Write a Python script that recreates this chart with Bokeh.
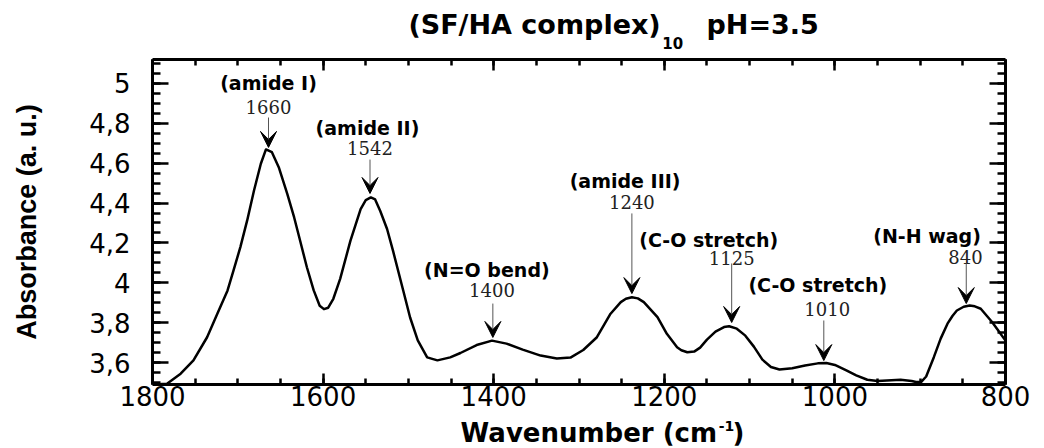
from bokeh.plotting import figure
from bokeh.layouts import column
from bokeh.models import (Range1d, FixedTicker, LinearAxis, CustomJSTickFormatter,
                          Arrow, VeeHead, ColumnDataSource)
from bokeh.core.properties import value
from bokeh.embed import file_html
from bokeh.resources import INLINE

# ---------------- data ----------------
wavenumber = [1800, 1783, 1767, 1752, 1736, 1724, 1712, 1705, 1697, 1689, 1681, 1673,
              1667, 1660, 1652, 1642, 1634, 1627, 1619, 1611, 1604, 1599, 1594, 1588, 1580,
              1568, 1556, 1550, 1544, 1539, 1533, 1525, 1518, 1506, 1498, 1489, 1478,
              1466, 1451, 1439, 1420, 1402, 1385, 1366, 1345, 1326, 1310, 1295, 1279,
              1263, 1251, 1245, 1238, 1231, 1224, 1208, 1197, 1185, 1180, 1173, 1165,
              1158, 1150, 1140, 1130, 1124, 1115, 1105, 1095, 1085, 1075, 1065, 1050,
              1035, 1020, 1010, 1000, 986, 975, 962, 950, 939, 923, 910, 905, 899, 893,
              884, 876, 868, 862, 857, 849, 842, 836, 829, 822, 816, 810, 800]
absorbance = [3.49, 3.494, 3.544, 3.611, 3.727, 3.845, 3.962, 4.062, 4.179, 4.313, 4.463, 4.597,
              4.669, 4.655, 4.58, 4.446, 4.329, 4.212, 4.078, 3.962, 3.885, 3.868, 3.875, 3.92, 4.02,
              4.21, 4.37, 4.415, 4.428, 4.418, 4.36, 4.27, 4.16, 3.96, 3.826, 3.711, 3.626,
              3.611, 3.626, 3.648, 3.688, 3.71, 3.695, 3.665, 3.635, 3.62, 3.625, 3.663, 3.727,
              3.845, 3.903, 3.92, 3.928, 3.922, 3.903, 3.828, 3.744, 3.677, 3.662, 3.652, 3.655,
              3.675, 3.715, 3.755, 3.778, 3.782, 3.77, 3.735, 3.68, 3.615, 3.578, 3.565, 3.572,
              3.585, 3.596, 3.598, 3.588, 3.56, 3.536, 3.514, 3.508, 3.51, 3.514, 3.508, 3.503, 3.502, 3.53,
              3.627, 3.72, 3.795, 3.835, 3.861, 3.88, 3.886, 3.882, 3.87, 3.835, 3.805, 3.77, 3.71]

ann_labels = ["(amide I)", "(amide II)", "(N=O bend)", "(amide III)",
              "(C-O stretch)", "(C-O stretch)", "(N-H wag)"]
ann_numbers = ["1660", "1542", "1400", "1240", "1125", "1010", "840"]
arrow_x = [1664, 1545, 1401, 1238, 1121, 1013, 846]
arrow_tip = [4.679, 4.448, 3.726, 3.946, 3.801, 3.61, 3.896]
arrow_tail = [4.829, 4.618, 3.896, 4.348, 4.097, 3.811, 4.097]
label_x = [1664, 1548, 1408, 1246, 1148, 1020, 892]
label_y = [5.0, 4.774, 4.062, 4.513, 4.217, 3.987, 4.237]
number_x = [1664, 1545, 1402, 1238, 1121, 1009, 847]
number_y = [4.884, 4.674, 3.962, 4.403, 4.122, 3.871, 4.127]

x_major = [1800, 1600, 1400, 1200, 1000, 800]
x_minor = list(range(800, 1801, 50))
y_major = [3.6, 3.8, 4.0, 4.2, 4.4, 4.6, 4.8, 5.0]
y_minor = [round(3.5 + 0.05 * i, 2) for i in range(0, 33)]

title_main = "(SF/HA complex)"
title_sub = "10"
title_ph = "pH=3.5"
xlabel_main = "Wavenumber (cm"
xlabel_sup = "-1"
xlabel_end = ")"

W = 1044
TOP_H = 54
MAIN_H = 5 + 325 + 31
BOT_H = 448 - TOP_H - MAIN_H

# ---------------- main figure ----------------
p = figure(width=W, height=MAIN_H, x_range=Range1d(1800, 800), y_range=Range1d(3.49, 5.12),
           output_backend="svg", toolbar_location=None, title=None,
           min_border_left=152, min_border_right=39, min_border_top=5, min_border_bottom=31)
p.xgrid.visible = False
p.ygrid.visible = False
p.outline_line_color = None
p.background_fill_color = "white"
p.border_fill_color = "white"

fmt = CustomJSTickFormatter(code="return (Math.round(tick*10)/10).toString().replace('.', ',');")

def style_axis(ax, major, minor, tin, tmin, labels, standoff):
    ax.ticker = FixedTicker(ticks=major, minor_ticks=minor)
    ax.axis_line_width = 3
    ax.axis_line_color = "black"
    ax.major_tick_in = tin
    ax.major_tick_out = 0
    ax.minor_tick_in = tmin
    ax.minor_tick_out = 0
    ax.major_tick_line_width = 2.5
    ax.minor_tick_line_width = 2.5
    ax.major_tick_line_color = "black"
    ax.minor_tick_line_color = "black"
    if labels:
        ax.major_label_text_font = "DejaVu Sans"
        ax.major_label_text_font_size = "26px"
        ax.major_label_text_color = "black"
        ax.major_label_standoff = standoff
    else:
        ax.formatter = CustomJSTickFormatter(code="return '';")
        ax.major_label_text_font_size = "1px"
        ax.major_label_standoff = 0

style_axis(p.xaxis[0], x_major, x_minor, 11, 6, True, 1)
style_axis(p.yaxis[0], y_major, y_minor, 16, 8, True, 22)
p.yaxis[0].formatter = fmt
p.yaxis[0].axis_label = "Absorbance (a. u.)"
p.yaxis[0].axis_label_text_font = "Liberation Sans"
p.yaxis[0].axis_label_text_font_style = "bold"
p.yaxis[0].axis_label_text_font_size = "27px"
p.yaxis[0].axis_label_text_color = "black"
p.yaxis[0].axis_label_standoff = 44

top_ax = LinearAxis()
style_axis(top_ax, x_major, x_minor, 11, 6, False, 0)
p.add_layout(top_ax, "above")
right_ax = LinearAxis()
style_axis(right_ax, y_major, y_minor, 16, 8, False, 0)
p.add_layout(right_ax, "right")

# spectrum
p.line(wavenumber, absorbance, line_color="black", line_width=2.5, line_join="round")

# annotations
src = ColumnDataSource(dict(x=arrow_x, tip=arrow_tip, tail=arrow_tail))
p.add_layout(Arrow(end=VeeHead(size=16, fill_color="black", line_color="black", line_width=1),
                   x_start="x", y_start="tail", x_end="x", y_end="tip", source=src,
                   line_color="#555555", line_width=1))
p.text(x=label_x, y=label_y, text=ann_labels, text_font=value("DejaVu Sans"),
       text_font_style="bold", text_font_size="19px", text_align="center",
       text_baseline="middle", text_color="black")
p.text(x=number_x, y=number_y, text=ann_numbers, text_font=value("DejaVu Serif"),
       text_font_size="18px", text_align="center", text_baseline="middle",
       text_color="#222222")

# ---------------- title / x-label strips (pixel coordinates, y downwards) ----------------
def strip(h):
    f = figure(width=W, height=h, x_range=Range1d(0, W), y_range=Range1d(h, 0),
               output_backend="svg", toolbar_location=None, x_axis_type=None,
               y_axis_type=None, min_border=0, title=None)
    f.xgrid.visible = False
    f.ygrid.visible = False
    f.outline_line_color = None
    f.background_fill_color = "white"
    f.border_fill_color = "white"
    return f

def txt(f, x, y, t, size, align="left"):
    f.text(x=[x], y=[y], text=[t], text_font=value("DejaVu Sans"), text_font_style="bold",
           text_font_size=size, text_align=align, text_baseline="middle",
           text_color="black")

top = strip(TOP_H)
txt(top, 622, 24, title_main, "27px", "right")
txt(top, 624, 42, title_sub, "15px")
txt(top, 678, 24, title_ph, "27px")

bottom = strip(BOT_H)
txt(bottom, 691, 17, xlabel_main, "26px", "right")
txt(bottom, 693, 10, xlabel_sup, "14px")
txt(bottom, 710, 17, xlabel_end, "26px")

layout = column(top, p, bottom, spacing=0)
open("out.html", "w").write(file_html(layout, INLINE))
